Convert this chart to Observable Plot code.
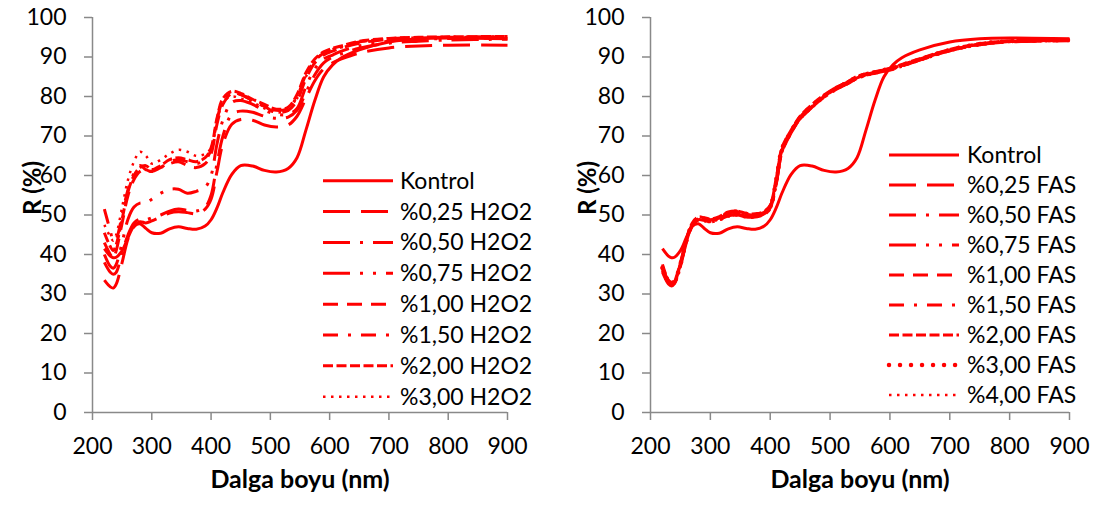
<!DOCTYPE html>
<html><head><meta charset="utf-8">
<script src="https://cdn.jsdelivr.net/npm/d3@7"></script>
<script src="https://cdn.jsdelivr.net/npm/@observablehq/plot@0.6"></script>
<style>
html,body{margin:0;padding:0;background:#fff;}
#wrap{position:relative;width:1099px;height:505px;display:flex;font-family:Lato,sans-serif;}
#wrap > svg{flex:0 0 auto;}
#overlay{position:absolute;left:0;top:0;pointer-events:none;}
</style></head><body><div id="wrap"></div>
<script>
// ---------- data ----------
const wavelengths = [220,230,235,240,250,260,270,280,290,300,315,330,345,360,375,390,400,410,420,435,450,470,490,510,530,545,560,575,590,605,620,650,700,750,800,900];
const xTicks = [200,300,400,500,600,700,800,900];
const yTicks = [0,10,20,30,40,50,60,70,80,90,100];

const kontrol = [41.5,39.6,39.2,39.3,41.0,44.3,47.2,47.8,46.6,45.5,45.4,46.5,47.0,46.6,46.4,47.2,48.8,51.8,55.7,60.3,62.5,62.4,61.3,60.9,61.8,64.5,71.5,79.0,85.0,88.0,89.8,91.8,93.8,94.6,94.8,94.6];

// H2O2 panel
const h2o2Names = ["Kontrol","%0,25 H2O2","%0,50 H2O2","%0,75 H2O2","%1,00 H2O2","%1,50 H2O2","%2,00 H2O2","%3,00 H2O2"];
const h025 = [33.5,31.8,31.5,32.5,38.0,44.0,47.0,48.3,48.0,48.5,49.5,50.5,50.8,50.6,50.3,51.5,54.0,61.0,68.0,73.0,74.2,74.0,72.8,72.3,72.8,75.0,79.5,84.0,87.0,88.5,89.5,91.0,92.3,92.8,93.0,93.0];
const h050 = [38.0,35.5,35.0,35.5,40.5,45.0,48.0,49.0,48.8,49.3,50.0,51.0,51.5,51.2,51.0,52.0,55.0,63.0,70.0,75.5,76.3,76.0,75.0,74.5,74.8,76.5,81.0,85.5,88.5,90.0,90.8,92.2,93.5,94.0,94.3,94.5];
const h075 = [40.0,37.0,36.5,37.5,43.0,49.0,52.0,53.0,53.0,54.0,55.5,56.5,56.5,55.5,56.0,57.0,60.0,68.0,74.0,78.5,79.0,78.0,76.5,75.5,75.5,77.0,82.5,87.0,89.5,90.5,91.5,92.8,94.0,94.5,94.7,94.8];
const h100 = [43.0,40.0,39.0,41.0,48.0,55.0,59.0,61.0,61.5,61.0,62.0,63.0,63.5,62.5,62.0,63.0,65.5,73.0,78.0,80.8,80.5,79.0,77.5,76.0,76.5,79.0,84.5,88.5,90.5,91.5,92.3,93.5,94.5,94.8,95.0,95.0];
const h150 = [51.5,46.0,43.5,44.0,50.0,56.5,60.5,62.5,61.5,61.0,62.0,63.5,64.0,63.5,63.0,64.0,66.5,74.0,79.0,81.0,80.5,79.0,77.5,76.5,77.0,80.0,85.5,89.0,91.0,92.0,92.5,93.8,94.6,94.9,95.0,95.2];
const h200 = [45.5,42.0,41.0,42.5,49.0,56.0,60.0,62.0,62.5,61.5,62.5,64.0,64.5,64.0,63.5,64.5,67.0,74.5,79.5,81.3,80.8,79.3,78.0,76.8,77.3,80.5,86.0,89.5,91.3,92.2,92.8,94.0,94.7,95.0,95.1,95.2];
const h300 = [47.5,44.5,43.5,45.0,52.0,59.0,63.5,66.0,65.0,63.0,64.0,65.5,66.5,66.0,65.0,65.5,67.0,73.5,78.5,80.0,79.5,78.5,77.0,76.0,76.5,79.5,85.0,89.0,91.0,92.0,92.7,93.8,94.6,94.9,95.0,95.1];

// FAS panel
const fasNames = ["Kontrol","%0,25 FAS","%0,50 FAS","%0,75 FAS","%1,00 FAS","%1,50 FAS","%2,00 FAS","%3,00 FAS","%4,00 FAS"];
const f025 = [36.0,32.8,32.3,32.8,37.0,43.0,47.2,48.8,48.6,48.4,48.9,49.8,50.2,49.6,49.6,50.3,51.8,58.0,66.0,70.8,74.3,77.3,79.8,81.8,83.3,84.6,85.4,85.9,86.4,86.9,87.7,89.2,91.6,93.1,93.8,94.1];
const f050 = [37.0,33.3,32.8,33.2,37.8,43.8,47.8,49.3,49.0,48.7,49.2,50.3,50.5,50.0,49.9,50.7,52.3,59.0,67.0,71.3,74.8,77.8,80.2,82.2,83.7,85.0,85.7,86.2,86.7,87.2,88.0,89.5,91.8,93.3,94.0,94.3];
const f075 = [35.5,32.5,32.0,32.6,37.2,43.3,47.4,48.9,48.5,48.3,48.8,49.7,50.0,49.5,49.5,50.2,51.6,57.8,66.2,70.9,74.4,77.4,79.9,81.9,83.4,84.7,85.4,86.0,86.5,87.0,87.8,89.3,91.6,93.2,93.9,94.2];
const f100 = [36.8,33.2,32.6,33.0,37.6,43.6,47.6,49.2,49.2,48.8,49.4,50.6,50.8,50.2,50.0,50.6,52.2,58.6,66.6,71.1,74.6,77.6,80.0,82.0,83.5,84.9,85.6,86.1,86.6,87.1,87.9,89.4,91.7,93.2,93.9,94.2];
const f150 = [36.3,32.9,32.4,32.9,37.4,43.4,47.5,49.0,48.7,48.5,49.0,49.9,50.1,49.7,49.7,50.4,51.9,58.3,66.4,71.0,74.5,77.5,80.0,82.0,83.5,84.8,85.5,86.0,86.5,87.0,87.8,89.3,91.7,93.2,93.9,94.2];
const f200 = [37.5,33.5,33.0,33.4,38.0,44.0,48.0,49.5,49.3,49.0,49.6,50.8,51.0,50.4,50.3,50.9,52.5,59.3,67.2,71.5,75.0,78.0,80.4,82.3,83.8,85.1,85.8,86.3,86.8,87.3,88.1,89.6,91.9,93.4,94.1,94.4];
const f300 = [36.6,33.0,32.5,33.0,37.5,43.5,47.6,49.3,49.0,48.6,49.2,50.5,50.9,50.3,50.1,50.8,52.2,58.8,66.8,71.2,74.7,77.7,80.1,82.1,83.6,84.9,85.6,86.1,86.7,87.2,88.0,89.4,91.8,93.3,94.0,94.3];
const f400 = [35.8,32.6,32.2,32.7,37.1,43.1,47.3,48.7,48.4,48.2,48.7,49.6,49.9,49.4,49.4,50.1,51.5,57.9,65.9,70.7,74.2,77.2,79.7,81.7,83.2,84.5,85.3,85.8,86.3,86.8,87.6,89.1,91.5,93.0,93.8,94.1];

// ---------- styles ----------
const RED = "#ff0000";
const S = {
  solid:   {dash: null, w: 3, cap: "butt"},
  lgDash:  {dash: "27,11", w: 3, cap: "butt"},
  lgDD:    {dash: "27,10,3,10", w: 3, cap: "butt"},
  lgDDD:   {dash: "27,10,3,10,3,10", w: 3, cap: "butt"},
  dash:    {dash: "15,9", w: 3, cap: "butt"},
  dashDot: {dash: "15,10,3,10", w: 3, cap: "butt"},
  sysDash: {dash: "10,3.5", w: 3, cap: "butt"},
  sysDot:  {dash: "2.5,5.5", w: 2.5, cap: "butt"},
  round:   {dash: "0.01,11", w: 4.5, cap: "round"}
};
const h2o2Styles = [S.solid,S.lgDash,S.lgDD,S.lgDDD,S.dash,S.dashDot,S.sysDash,S.sysDot];
const fasStyles  = [S.solid,S.lgDash,S.lgDD,S.lgDDD,S.dash,S.dashDot,S.sysDash,S.round,S.sysDot];

const h2o2Values = [kontrol,h025,h050,h075,h100,h150,h200,h300];
const fasValues  = [kontrol,f025,f050,f075,f100,f150,f200,f300,f400];

function panel(values, styles, width, mL, mR, yTitleDx) {
  const lines = values.map((vals, k) => Plot.line(
    wavelengths.map((w, i) => ({w, r: vals[i]})),
    {x: "w", y: "r", stroke: RED, strokeWidth: styles[k].w,
     strokeDasharray: styles[k].dash || undefined, strokeLinecap: styles[k].cap,
     curve: "catmull-rom"}));
  return Plot.plot({
    width, height: 505, marginLeft: mL, marginRight: mR, marginTop: 17, marginBottom: 93,
    style: {fontFamily: "Lato, sans-serif", fontSize: "23px", color: "#000", background: "#fff", overflow: "visible"},
    x: {domain: [200, 900]},
    y: {domain: [0, 100]},
    marks: [
      Plot.axisX({ticks: xTicks, tickSize: 8, tickPadding: 17, stroke: "#898989", strokeWidth: 1.5, fill: "#000", label: null, fontSize: 23}),
      Plot.axisY({ticks: yTicks, tickSize: 8, tickPadding: 18, stroke: "#898989", strokeWidth: 1.5, fill: "#000", label: null, fontSize: 23}),
      Plot.ruleX([200], {stroke: "#898989", strokeWidth: 1.5}),
      Plot.ruleY([0], {stroke: "#898989", strokeWidth: 1.5}),
      ...lines,
      Plot.text(["R (%)"], {text: d => d, frameAnchor: "left", dx: yTitleDx, rotate: -90, fontWeight: "bold", fontSize: 24, fill: "#000"}),
      Plot.text(["Dalga boyu (nm)"], {text: d => d, frameAnchor: "bottom", dy: 75, fontWeight: "bold", fontSize: 25, fill: "#000"})
    ]
  });
}

const wrap = document.getElementById("wrap");
wrap.appendChild(panel(h2o2Values, h2o2Styles, 549, 92, 42, -59));
wrap.appendChild(panel(fasValues, fasStyles, 550, 101, 30, -62));

// ---------- legends (overlay) ----------
const svg = d3.select(wrap).append("svg").attr("id", "overlay").attr("width", 1099).attr("height", 505);
function legend(names, styles, x1, x2, tx, y0, step) {
  names.forEach((n, i) => {
    const y = y0 + i * step;
    const st = styles[i];
    const ln = svg.append("line").attr("x1", x1).attr("x2", x2).attr("y1", y).attr("y2", y)
      .attr("stroke", RED).attr("stroke-width", st.w).attr("stroke-linecap", st.cap);
    if (st.dash) ln.attr("stroke-dasharray", st.dash);
    svg.append("text").attr("x", tx).attr("y", y).attr("dy", "0.35em")
      .attr("font-family", "Lato, sans-serif").attr("font-size", 23).attr("fill", "#000").text(n);
  });
}
legend(h2o2Names, h2o2Styles, 323, 393, 400, 180.7, 30.86);
legend(fasNames, fasStyles, 889, 959, 967, 155, 30);
</script></body></html>
